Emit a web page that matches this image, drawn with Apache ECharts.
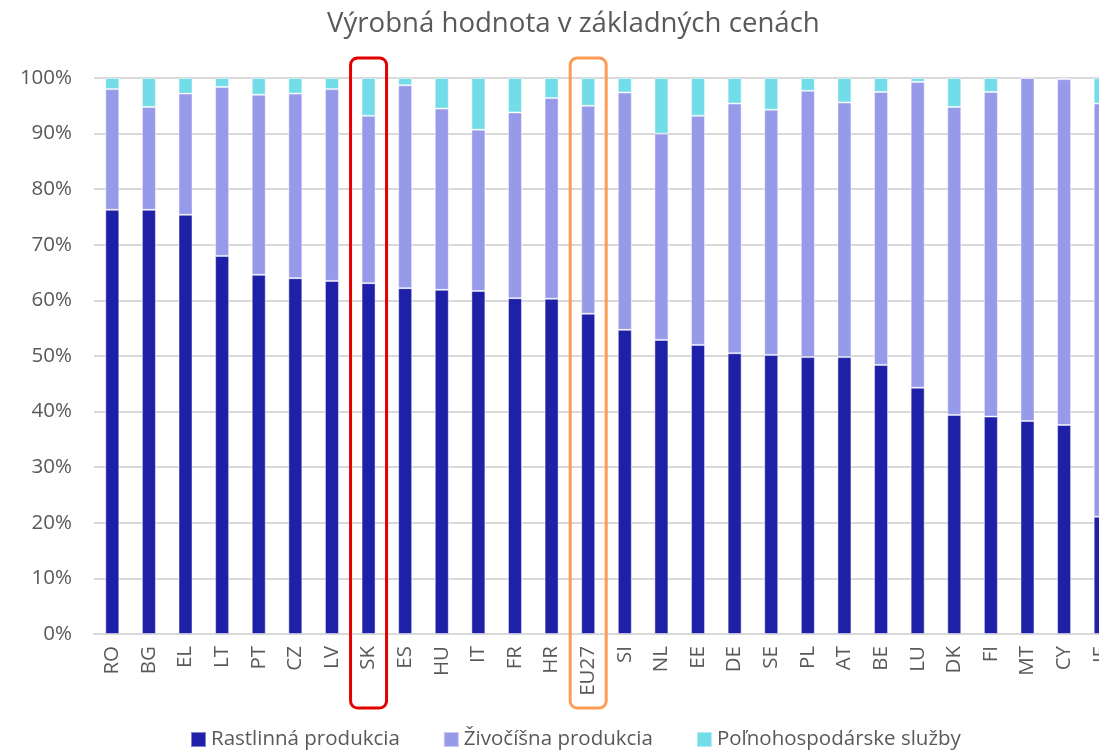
<!DOCTYPE html>
<html>
<head>
<meta charset="utf-8">
<script src="https://cdn.jsdelivr.net/npm/echarts@6/dist/echarts.min.js"></script>
<style>
  html, body { margin: 0; padding: 0; background: #fff; }
  #chart { width: 1099px; height: 752px; }
</style>
</head>
<body>
<div id="chart"></div>
<script>
// krajiny (poradie podľa podielu rastlinnej produkcie)
const countries = ['RO', 'BG', 'EL', 'LT', 'PT', 'CZ', 'LV', 'SK', 'ES', 'HU', 'IT', 'FR', 'HR', 'EU27',
  'SI', 'NL', 'EE', 'DE', 'SE', 'PL', 'AT', 'BE', 'LU', 'DK', 'FI', 'MT', 'CY', 'IE'];

// podiely v %
const rastlinna = [76.3, 76.3, 75.4, 68.0, 64.6, 64.0, 63.5, 63.1, 62.2, 61.9, 61.7, 60.4, 60.3, 57.6,
  54.7, 52.9, 52.0, 50.5, 50.2, 49.8, 49.8, 48.4, 44.3, 39.4, 39.1, 38.3, 37.6, 21.1];
const sluzby = [2.0, 5.2, 2.8, 1.6, 3.0, 2.8, 2.0, 6.8, 1.3, 5.5, 9.3, 6.2, 3.6, 5.0,
  2.6, 10.0, 6.8, 4.6, 5.7, 2.3, 4.4, 2.5, 0.7, 5.2, 2.5, 0.0, 0.2, 4.6];
// živočíšna = zvyšok do 100 %
const zivocisna = rastlinna.map((v, i) => +(100 - v - sluzby[i]).toFixed(1));

const seriesNames = ['Rastlinná produkcia', 'Živočíšna produkcia', 'Poľnohospodárske služby'];
const highlighted = [{ name: 'SK', color: '#e50000' }, { name: 'EU27', color: '#ff9a52' }];

const textColor = '#595959';
const font = 'Open Sans';

const chart = echarts.init(document.getElementById('chart'));

function mkSeries(name, data, color) {
  return {
    name: name,
    type: 'bar',
    stack: 'total',
    data: data,
    barWidth: 14,
    itemStyle: { color: color, borderColor: 'rgba(255,255,255,0.45)', borderWidth: 1 },
    emphasis: { disabled: true }
  };
}

chart.setOption({
  backgroundColor: '#fff',
  animation: false,
  textStyle: { fontFamily: font },
  title: {
    text: 'Výrobná hodnota v základných cenách',
    left: 322,
    top: 5,
    textStyle: { fontFamily: font, fontSize: 27.6, fontWeight: 'normal', color: textColor }
  },
  legend: {
    top: 724,
    left: 185,
    icon: 'rect',
    itemWidth: 15,
    itemHeight: 15,
    itemGap: 43,
    textStyle: { fontFamily: font, fontSize: 20.5, color: textColor },
    data: seriesNames
  },
  grid: { left: 94, right: -20, top: 78, bottom: 118, containLabel: false, outerBoundsMode: 'none' },
  xAxis: {
    type: 'category',
    data: countries,
    axisTick: { show: false },
    axisLine: { lineStyle: { color: '#d9d9d9', width: 2 } },
    axisLabel: {
      rotate: 90,
      interval: 0,
      margin: 12,
      fontFamily: font,
      fontSize: 20.5,
      color: textColor
    }
  },
  yAxis: {
    type: 'value',
    min: 0,
    max: 100,
    interval: 10,
    axisLine: { show: false },
    axisTick: { show: false },
    splitLine: { lineStyle: { color: '#d9d9d9', width: 2 } },
    axisLabel: {
      formatter: '{value}%',
      margin: 22,
      fontFamily: font,
      fontSize: 20.5,
      color: textColor
    }
  },
  series: [
    mkSeries(seriesNames[0], rastlinna, '#1f20a8'),
    mkSeries(seriesNames[1], zivocisna, '#979ae9'),
    mkSeries(seriesNames[2], sluzby, '#72dde8')
  ]
});

// zvýraznenie SK a EU27 rámčekom
const yTop = chart.convertToPixel({ yAxisIndex: 0 }, 100);
const yBottom = chart.convertToPixel({ yAxisIndex: 0 }, 0);
chart.setOption({
  graphic: highlighted.map(h => {
    const cx = chart.convertToPixel({ xAxisIndex: 0 }, h.name);
    return {
      type: 'rect',
      shape: { x: cx - 18, y: yTop - 20, width: 36, height: yBottom - yTop + 94, r: 7 },
      style: { fill: 'none', stroke: h.color, lineWidth: 3 },
      silent: true,
      z: 100
    };
  })
});
</script>
</body>
</html>
